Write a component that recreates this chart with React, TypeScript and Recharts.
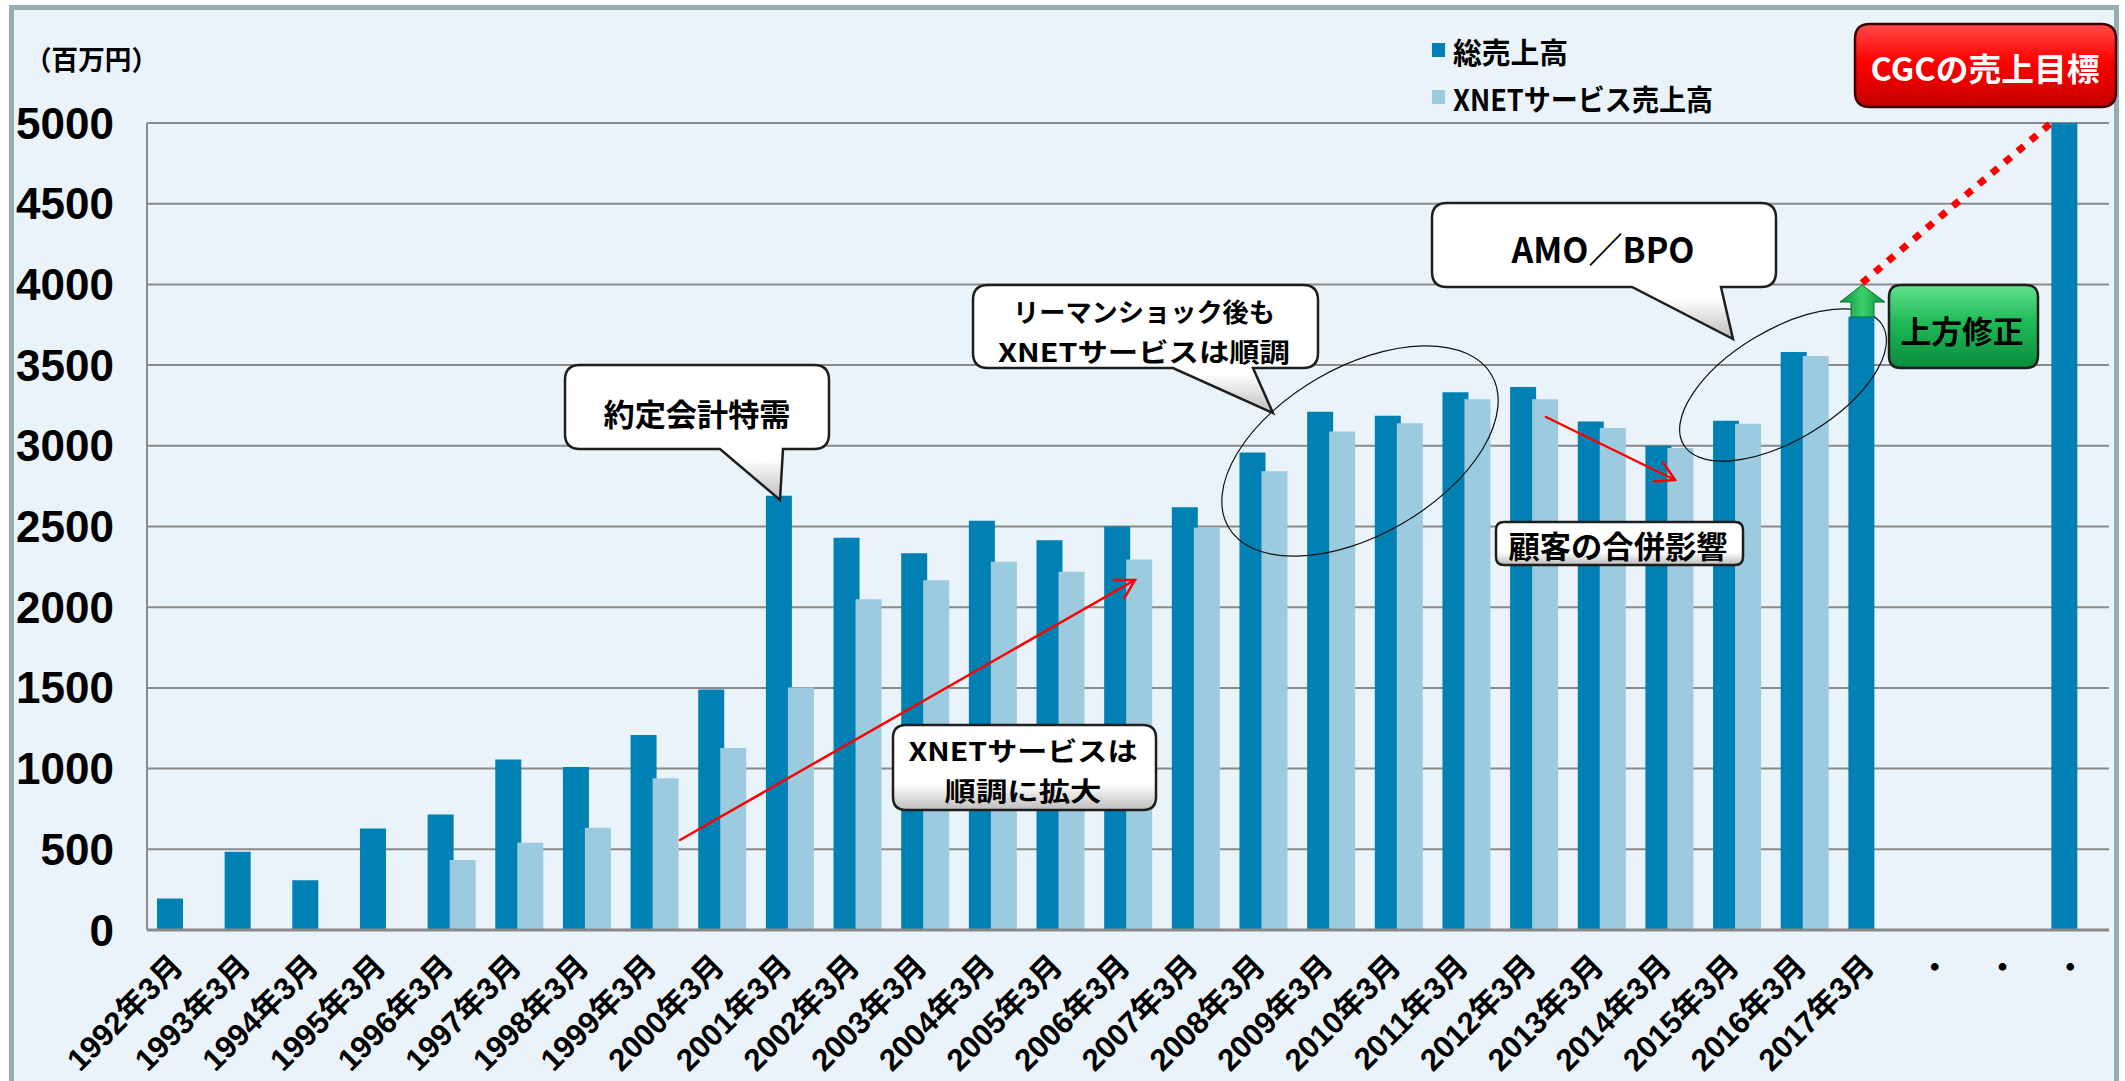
import React from 'react';
import { BarChart, Bar, XAxis, YAxis, CartesianGrid, Legend } from 'recharts';

const categories = [
  '1992年3月', '1993年3月', '1994年3月', '1995年3月', '1996年3月', '1997年3月',
  '1998年3月', '1999年3月', '2000年3月', '2001年3月', '2002年3月', '2003年3月',
  '2004年3月', '2005年3月', '2006年3月', '2007年3月', '2008年3月', '2009年3月',
  '2010年3月', '2011年3月', '2012年3月', '2013年3月', '2014年3月', '2015年3月',
  '2016年3月', '2017年3月', '・', '・', '・',
];

const totalSales = [
  195, 485, 309, 629, 715, 1056, 1010, 1208, 1490, 2690, 2430, 2335, 2535, 2415,
  2500, 2620, 2958, 3211, 3186, 3332, 3365, 3151, 3001, 3155, 3581, 3800, null, null, 5000,
];

const xnetSales = [
  null, null, null, null, 433, 540, 633, 940, 1128, 1502, 2050, 2167, 2281, 2219,
  2295, 2492, 2843, 3088, 3139, 3289, 3289, 3110, 2987, 3137, 3556, null, null, null, null,
];

const yTicks = [0, 500, 1000, 1500, 2000, 2500, 3000, 3500, 4000, 4500, 5000];

const seriesNames = ['総売上高', 'XNETサービス売上高'];
const DARK = '#0080b3';
const LIGHT = '#9ccbe0';
const CJK = '"Noto Sans CJK JP", "Noto Sans CJK SC", sans-serif';
const NUM = '"Liberation Sans", Arial, "Noto Sans CJK JP", sans-serif';

const data = categories.map((c, i) => ({ idx: i, total: totalSales[i], xnet: xnetSales[i] }));

const XTick = (props: any) => {
  const { x, y, payload } = props;
  const label = categories[payload.value];
  if (label === '・') {
    return (
      <text x={x - 5} y={y + 35} textAnchor="middle" dominantBaseline="central"
        fontFamily={CJK} fontWeight={700} fontSize={30} fill="#000">・</text>
    );
  }
  const px = x + 4;
  const py = y + 38;
  return (
    <text x={px} y={py} textAnchor="end" transform={`rotate(-45 ${px} ${py})`}
      fontFamily={NUM} fontWeight={700} fontSize={31} fill="#000">{label}</text>
  );
};

const YTick = (props: any) => {
  const { x, y, payload } = props;
  return (
    <text x={x} y={y} textAnchor="end" dominantBaseline="central"
      fontFamily={NUM} fontWeight={700} fontSize={44} fill="#000">{payload.value}</text>
  );
};

const LegendBox = () => (
  <svg width={330} height={100} style={{ display: 'block' }}>
    <rect x={12} y={18} width={13} height={14} fill={DARK} />
    <text x={33} y={25.5} dominantBaseline="central" fontFamily={CJK} fontWeight={700}
      fontSize={29} textLength={115} lengthAdjust="spacingAndGlyphs">{seriesNames[0]}</text>
    <rect x={12} y={65} width={13} height={14} fill={LIGHT} />
    <text x={33} y={73} dominantBaseline="central" fontFamily={CJK} fontWeight={700}
      fontSize={29} textLength={260} lengthAdjust="spacingAndGlyphs">{seriesNames[1]}</text>
  </svg>
);

function bubble(x: number, y: number, w: number, h: number, r: number, tail?: { b1: number; b2: number; tx: number; ty: number }) {
  const x2 = x + w;
  const y2 = y + h;
  let d = `M${x + r},${y} H${x2 - r} Q${x2},${y} ${x2},${y + r} V${y2 - r} Q${x2},${y2} ${x2 - r},${y2}`;
  if (tail) d += ` H${tail.b2} L${tail.tx},${tail.ty} L${tail.b1},${y2}`;
  d += ` H${x + r} Q${x},${y2} ${x},${y2 - r} V${y + r} Q${x},${y} ${x + r},${y} Z`;
  return d;
}

function arrow(x1: number, y1: number, x2: number, y2: number, len = 21) {
  const a = Math.atan2(y2 - y1, x2 - x1);
  const b1 = a + Math.PI - Math.PI / 6;
  const b2 = a + Math.PI + Math.PI / 6;
  return (
    <g stroke="#ff0000" strokeWidth={2.5} fill="none" strokeLinecap="round">
      <line x1={x1} y1={y1} x2={x2} y2={y2} />
      <polyline points={`${x2 + len * Math.cos(b1)},${y2 + len * Math.sin(b1)} ${x2},${y2} ${x2 + len * Math.cos(b2)},${y2 + len * Math.sin(b2)}`} />
    </g>
  );
}

const T = (p: any) => (
  <text x={p.x} y={p.y} textAnchor={p.anchor || 'middle'} dominantBaseline="central" fontFamily={CJK}
    fontWeight={700} fontSize={p.size} fill={p.fill || '#000'} textLength={p.len} lengthAdjust="spacingAndGlyphs">
    {p.children}
  </text>
);

const Overlay = () => (
  <svg width={2125} height={1081} style={{ position: 'absolute', left: 0, top: 0, pointerEvents: 'none' }}>
    <defs>
      <linearGradient id="bevel" x1="0" y1="0" x2="0" y2="1">
        <stop offset="0%" stopColor="#ffffff" />
        <stop offset="70%" stopColor="#ffffff" />
        <stop offset="100%" stopColor="#bcbcbc" />
      </linearGradient>
      <linearGradient id="green" x1="0" y1="0" x2="0" y2="1">
        <stop offset="0%" stopColor="#63e08f" />
        <stop offset="45%" stopColor="#1fba57" />
        <stop offset="100%" stopColor="#0a8c3b" />
      </linearGradient>
      <linearGradient id="red" x1="0" y1="0" x2="0" y2="1">
        <stop offset="0%" stopColor="#ff4a4a" />
        <stop offset="45%" stopColor="#ff0000" />
        <stop offset="100%" stopColor="#c40000" />
      </linearGradient>
      <linearGradient id="garrow" x1="0" y1="0" x2="1" y2="0">
        <stop offset="0%" stopColor="#0f8f3e" />
        <stop offset="50%" stopColor="#3bcf6c" />
        <stop offset="100%" stopColor="#0f8f3e" />
      </linearGradient>
    </defs>

    {/* unit label */}
    <T x={25} y={58} size={27} anchor="start" len={133}>（百万円）</T>

    {/* ellipses */}
    <ellipse cx={1360} cy={451} rx={152} ry={84} transform="rotate(-30 1360 451)" fill="none" stroke="#111" strokeWidth={1.2} />
    <ellipse cx={1783} cy={385} rx={116} ry={55} transform="rotate(-31 1783 385)" fill="none" stroke="#111" strokeWidth={1.2} />

    {/* red arrows */}
    {arrow(680, 840, 1135, 580)}
    {arrow(1546, 417, 1675, 480)}

    {/* dotted target line */}
    <line x1={1862} y1={283} x2={2050} y2={124} stroke="#ff0000" strokeWidth={7} strokeDasharray="8 9" />

    {/* green up arrow */}
    <polygon points="1862,285 1885,302 1874,302 1874,317 1851,317 1851,302 1840,302"
      fill="url(#garrow)" stroke="#0b6e2f" strokeWidth={1} />

    {/* callouts */}
    <path d={bubble(565, 365, 264, 84, 15, { b1: 720, b2: 783, tx: 780, ty: 500 })}
      fill="url(#bevel)" stroke="#1e1e1e" strokeWidth={2.5} />
    <T x={697} y={412} size={31} len={187}>約定会計特需</T>

    <path d={bubble(973, 285, 345, 83, 15, { b1: 1173, b2: 1253, tx: 1273, ty: 413 })}
      fill="url(#bevel)" stroke="#1e1e1e" strokeWidth={2.5} />
    <T x={1144} y={310} size={26} len={262}>リーマンショック後も</T>
    <T x={1144} y={350} size={26} len={292}>XNETサービスは順調</T>

    <path d={bubble(1432, 203, 344, 84, 15, { b1: 1632, b2: 1721, tx: 1733, ty: 339 })}
      fill="url(#bevel)" stroke="#1e1e1e" strokeWidth={2.5} />
    <T x={1603} y={247} size={35} len={183}>AMO／BPO</T>

    <path d={bubble(893, 725, 263, 85, 13)} fill="url(#bevel)" stroke="#1e1e1e" strokeWidth={2.5} />
    <T x={1023} y={749} size={26} len={229}>XNETサービスは</T>
    <T x={1023} y={789} size={26} len={157}>順調に拡大</T>

    <path d={bubble(1496, 522, 247, 43, 8)} fill="url(#bevel)" stroke="#1e1e1e" strokeWidth={2.5} />
    <T x={1618} y={544} size={31} len={219}>顧客の合併影響</T>

    <path d={bubble(1889, 285, 149, 83, 12)} fill="url(#green)" stroke="#1e1e1e" strokeWidth={2.5} />
    <T x={1962} y={329} size={31} len={123}>上方修正</T>

    <path d={bubble(1855, 24, 261, 83, 15)} fill="url(#red)" stroke="#3a0000" strokeWidth={2.5} />
    <T x={1985} y={67} size={32} len={229} fill="#ffffff">CGCの売上目標</T>
  </svg>
);

export default function App() {
  return (
    <div style={{ position: 'absolute', left: 0, top: 0, width: 2125, height: 1081, overflow: 'hidden', background: '#ffffff' }}>
      <div style={{ position: 'absolute', left: 9, top: 5, width: 2110, height: 1120, boxSizing: 'border-box', border: '5px solid #98acb6', background: '#eaf3f9' }} />
      <div style={{ position: 'absolute', left: 0, top: 0 }}>
        <BarChart width={2125} height={1081} data={data} barGap={-4}
          margin={{ top: 123, right: 16, bottom: 1, left: 0 }}>
          <CartesianGrid vertical={false} stroke="#8a8a8a" strokeWidth={2} />
          <XAxis dataKey="idx" type="category" interval={0} height={150} tickSize={0} tickMargin={0}
            tickLine={false} axisLine={{ stroke: '#8a8a8a', strokeWidth: 3 }} tick={<XTick />} />
          <YAxis width={147} domain={[0, 5000]} ticks={yTicks} tickSize={0} tickMargin={33}
            tickLine={false} axisLine={{ stroke: '#8a8a8a', strokeWidth: 2 }} tick={<YTick />} />
          <Legend layout="vertical" verticalAlign="middle" align="center" content={() => <LegendBox />}
            wrapperStyle={{ position: 'absolute', left: 1420, top: 25, width: 330, height: 100 }} />
          <Bar dataKey="total" name={seriesNames[0]} fill={DARK} barSize={26} isAnimationActive={false} />
          <Bar dataKey="xnet" name={seriesNames[1]} fill={LIGHT} barSize={26} isAnimationActive={false} />
        </BarChart>
      </div>
      <Overlay />
    </div>
  );
}
